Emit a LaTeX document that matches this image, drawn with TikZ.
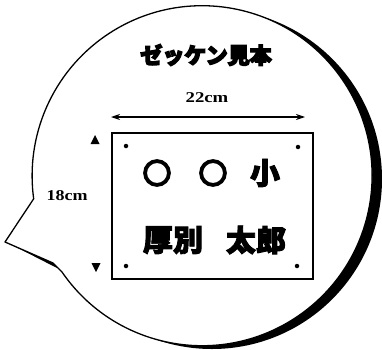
\documentclass[tikz,border=0pt]{standalone}
\usepackage{fontspec}
\setmainfont{Liberation Serif}
\newfontfamily\cjk{Noto Sans CJK JP}[FakeBold=3]
\newfontfamily\cjkheavy{Noto Sans CJK JP}[FakeBold=6]
\newfontfamily\cjkring{Noto Sans CJK JP}[FakeBold=9]
\usetikzlibrary{arrows.meta}
\tikzset{
  outline/.style={line width=1.3pt, line join=round},
  dimtext/.style={font=\bfseries\fontsize{15}{15}\selectfont, inner sep=0pt},
  signtext/.style={font=\cjk\bfseries\fontsize{30}{30}\selectfont, inner sep=0pt},
  ringtext/.style={font=\cjkring\bfseries\fontsize{28}{28}\selectfont, inner sep=0pt},
  titletext/.style={font=\cjkheavy\bfseries\fontsize{22}{22}\selectfont, inner sep=0pt},
  hole/.style={circle, fill=black, inner sep=0pt, minimum size=4.5pt},
  dimarrow/.style={line width=1.1pt, {Stealth[length=9pt,width=6pt]}-{Stealth[length=9pt,width=6pt]}},
}
\begin{document}
\begin{tikzpicture}[x=1pt,y=1pt]
\fill[white] (0,0) rectangle (382,349);
\useasboundingbox (0,0) rectangle (382,349);
% shadow of the bubble
\fill[black] (212,170) circle (170);
\fill[black] (12,104) -- (54,88) -- (57,81) -- cycle;
% bubble
\fill[white, draw=black, outline] (62,77) arc[start angle=214.5, end angle=547.8, radius=170]
  -- (5,107) -- (53,86) -- cycle;
% title
\node[titletext] (title) at (206,294) {ゼッケン見本};
% width dimension
\node[dimtext] (w) at (207,251) {\scalebox{1.25}[1]{22cm}};
\coordinate (wl) at (111,232);
\coordinate (wr) at (305,232);
\draw[dimarrow] (wl) -- (wr);
% height dimension
\node[dimtext] (h) at (67,153) {\scalebox{1.2}[1]{18cm}};
\fill (90.5,205) -- (99.5,205) -- (95,214) -- cycle;
\fill (91.5,86) -- (100.5,86) -- (96,77) -- cycle;
% the sign
\node[draw, line width=1.3pt, minimum width=201pt, minimum height=146pt, inner sep=0pt] (sign) at (212.5,143) {};
\node[hole] (h1) at (126,203) {};
\node[hole] (h2) at (298,202) {};
\node[hole] (h3) at (126,83) {};
\node[hole] (h4) at (297,83) {};
\node[ringtext] (c1) at (157,176) {○};
\node[ringtext] (c2) at (213,176) {○};
\node[signtext] (sho) at (265,176) {小};
\node[signtext] (sur) at (173,109) {厚別};
\node[signtext] (giv) at (256,109) {太郎};
\end{tikzpicture}
\end{document}
